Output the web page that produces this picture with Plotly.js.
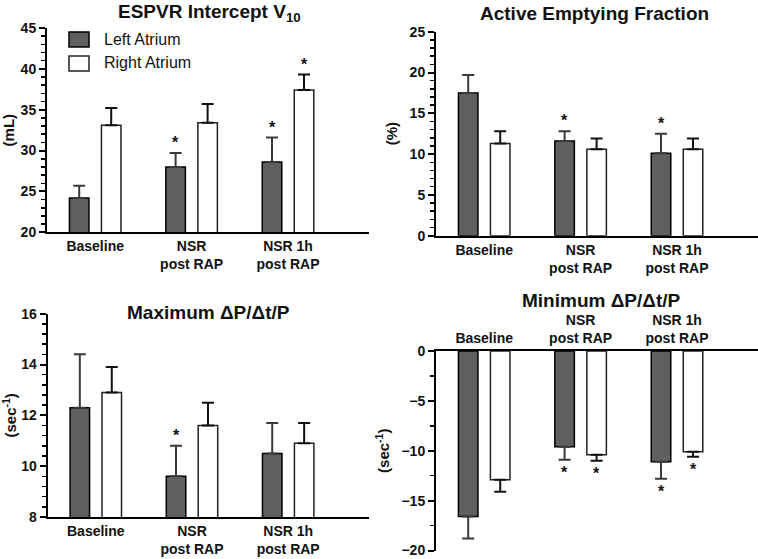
<!DOCTYPE html>
<html>
<head>
<meta charset="utf-8">
<script src="https://cdn.plot.ly/plotly-3.0.1.min.js"></script>
<style>html,body{margin:0;padding:0;background:#fff;}#chart{width:758px;height:559px;}</style>
</head>
<body>
<div id="chart"></div>
<script>
// ---- data ----
var categories = ['Baseline', 'NSR<br>post RAP', 'NSR 1h<br>post RAP'];
var seriesNames = ['Left Atrium', 'Right Atrium'];

var espvrLA = [24.2, 28.0, 28.6];
var espvrLAerr = [1.5, 1.7, 3.0];
var espvrRA = [33.1, 33.4, 37.4];
var espvrRAerr = [2.1, 2.3, 1.9];
var espvrLAsig = [0, 1, 1];
var espvrRAsig = [0, 0, 1];

var aefLA = [17.5, 11.6, 10.1];
var aefLAerr = [2.2, 1.2, 2.4];
var aefRA = [11.3, 10.6, 10.6];
var aefRAerr = [1.5, 1.3, 1.3];
var aefLAsig = [0, 1, 1];
var aefRAsig = [0, 0, 0];

var maxLA = [12.3, 9.6, 10.5];
var maxLAerr = [2.1, 1.2, 1.2];
var maxRA = [12.9, 11.6, 10.9];
var maxRAerr = [1.0, 0.9, 0.8];
var maxLAsig = [0, 1, 0];
var maxRAsig = [0, 0, 0];

var minLA = [-16.6, -9.6, -11.1];
var minLAerr = [2.2, 1.3, 1.7];
var minRA = [-12.9, -10.4, -10.1];
var minRAerr = [1.2, 0.6, 0.5];
var minLAsig = [0, 1, 1];
var minRAsig = [0, 1, 1];

// ---- styling ----
var W = 758, H = 559;
function px(x) { return x / W; }
function py(y) { return 1 - y / H; }
var FONT = 'Arial, "Liberation Sans", sans-serif';
var DARK = '#5f5f5f';
var GROUP_OFF = 0.166;

var traces = [];
var annotations = [];

function addPanel(n, la, laErr, ra, raErr, laSig, raSig, negative) {
  var xa = 'x' + (n === 1 ? '' : n), ya = 'y' + (n === 1 ? '' : n);
  function errObj(err, color) {
    return negative ?
      {type: 'data', symmetric: false, array: err.map(function(){return 0;}), arrayminus: err,
       color: color, thickness: 2, width: 6} :
      {type: 'data', symmetric: false, array: err, arrayminus: err.map(function(){return 0;}),
       color: color, thickness: 2, width: 6};
  }
  traces.push({
    type: 'bar', name: seriesNames[0], x: categories, y: la, xaxis: xa, yaxis: ya,
    marker: {color: DARK, line: {color: '#000', width: 1.5}},
    error_y: errObj(laErr, '#3a3a3a'), showlegend: false, hoverinfo: 'y'
  });
  traces.push({
    type: 'bar', name: seriesNames[1], x: categories, y: ra, xaxis: xa, yaxis: ya,
    marker: {color: '#ffffff', line: {color: '#222', width: 1.5}},
    error_y: errObj(raErr, '#111'), showlegend: false, hoverinfo: 'y'
  });
  function stars(vals, errs, sig, off) {
    for (var i = 0; i < vals.length; i++) {
      if (!sig[i]) continue;
      var tip = negative ? vals[i] - errs[i] : vals[i] + errs[i];
      annotations.push({
        xref: xa, yref: ya, x: i + off, y: tip, text: '<b>*</b>', showarrow: false,
        yanchor: negative ? 'top' : 'bottom', yshift: negative ? -2 : 0,
        font: {family: FONT, size: 16, color: '#111'}
      });
    }
  }
  stars(la, laErr, laSig, -GROUP_OFF);
  stars(ra, raErr, raSig, GROUP_OFF);
}

addPanel(1, espvrLA, espvrLAerr, espvrRA, espvrRAerr, espvrLAsig, espvrRAsig, false);
addPanel(2, aefLA, aefLAerr, aefRA, aefRAerr, aefLAsig, aefRAsig, false);
addPanel(3, maxLA, maxLAerr, maxRA, maxRAerr, maxLAsig, maxRAsig, false);
addPanel(4, minLA, minLAerr, minRA, minRAerr, minLAsig, minRAsig, true);

// panel titles
function title(text, xc, yc) {
  annotations.push({xref: 'paper', yref: 'paper', x: px(xc), y: py(yc), text: '<b>' + text + '</b>',
    showarrow: false, xanchor: 'center', yanchor: 'middle', font: {family: FONT, size: 19, color: '#111'}});
}
title('ESPVR Intercept V<sub>10</sub>', 209, 13);
title('Active Emptying Fraction', 594, 13);
title('Maximum \u0394P/\u0394t/P', 208, 312);
title('Minimum \u0394P/\u0394t/P', 601, 300);

// legend (drawn)
var shapes = [
  {type: 'rect', xref: 'paper', yref: 'paper', x0: px(69), x1: px(89), y0: py(32), y1: py(47),
   fillcolor: DARK, line: {color: '#000', width: 1.5}},
  {type: 'rect', xref: 'paper', yref: 'paper', x0: px(69), x1: px(89), y0: py(56), y1: py(71),
   fillcolor: '#fff', line: {color: '#222', width: 1.5}}
];
annotations.push({xref: 'paper', yref: 'paper', x: px(102), y: py(39.5), text: seriesNames[0], showarrow: false,
  xanchor: 'left', yanchor: 'middle', font: {family: FONT, size: 16, color: '#111'}});
annotations.push({xref: 'paper', yref: 'paper', x: px(102), y: py(63), text: seriesNames[1], showarrow: false,
  xanchor: 'left', yanchor: 'middle', font: {family: FONT, size: 16, color: '#111'}});

function xaxis(dom, anchor, side) {
  return {domain: dom, anchor: anchor, type: 'category', range: [-0.5, 2.84], side: side || 'bottom',
    showline: true, linecolor: '#000', linewidth: 2, ticks: '', showgrid: false, zeroline: false,
    ticklabeloverflow: 'allow',
    tickfont: {family: FONT, size: 14, color: '#111', weight: 'bold'}, fixedrange: true};
}
function yaxis(dom, anchor, range, dtick, minor, titleText) {
  return {domain: dom, anchor: anchor, range: range, dtick: dtick, showline: true, linecolor: '#000',
    linewidth: 2, ticks: 'outside', ticklen: 6, tickwidth: 2, tickcolor: '#000', showgrid: false,
    zeroline: false, minor: {dtick: minor, ticks: 'outside', ticklen: 4, tickwidth: 1.5, tickcolor: '#000', showgrid: false},
    ticklabeloverflow: 'allow',
    tickfont: {family: FONT, size: 14, color: '#111', weight: 'bold'},
    title: {text: titleText, standoff: 8, font: {family: FONT, size: 15, color: '#111', weight: 'bold'}},
    fixedrange: true};
}

var layout = {
  width: W, height: H, margin: {l: 0, r: 0, t: 0, b: 0},
  paper_bgcolor: '#fff', plot_bgcolor: 'rgba(0,0,0,0)',
  barmode: 'group', bargap: 0.336, bargroupgap: 0.39,
  showlegend: false,
  xaxis: xaxis([px(47), px(369)], 'y'),
  yaxis: yaxis([py(232.3), py(28)], 'x', [20, 45], 5, 1, '(mL)'),
  xaxis2: xaxis([px(436), 1], 'y2'),
  yaxis2: yaxis([py(235.7), py(31.7)], 'x2', [0, 25], 5, 1, '(%)'),
  xaxis3: xaxis([px(47.7), px(369)], 'y3'),
  yaxis3: yaxis([py(517), py(313.7)], 'x3', [8, 16], 2, 0.4, '(sec<sup>-1</sup>)'),
  xaxis4: xaxis([px(436), 1], 'y4', 'top'),
  yaxis4: yaxis([py(550.5), py(351)], 'x4', [-20, 0], 5, 2.5, '(sec<sup>-1</sup>)'),
  annotations: annotations,
  shapes: shapes,
  font: {family: FONT, color: '#111'}
};

Plotly.newPlot('chart', traces, layout, {staticPlot: true, displayModeBar: false});
</script>
</body>
</html>
